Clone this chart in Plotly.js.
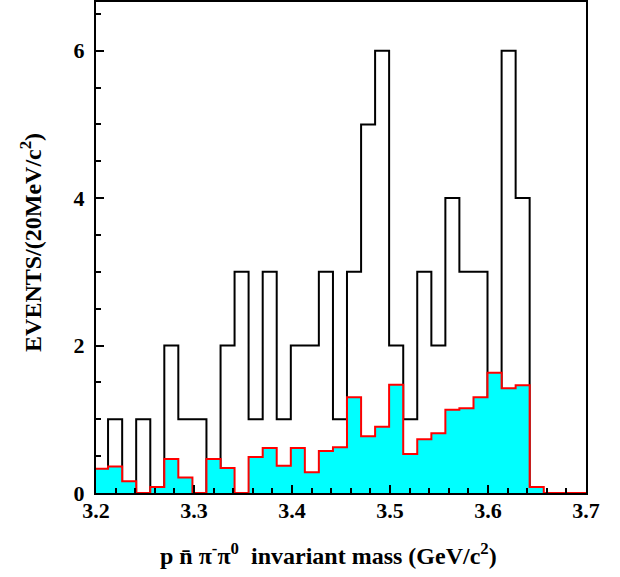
<!DOCTYPE html>
<html>
<head>
<meta charset="utf-8">
<script src="https://cdn.plot.ly/plotly-3.0.1.min.js"></script>
<style>html,body{margin:0;padding:0;background:#fff;}#chart{width:620px;height:577px;}</style>
</head>
<body>
<div id="chart"></div>
<script>
// Bin edges (GeV/c^2)
const binEdges = [3.1980, 3.2123, 3.2267, 3.2410, 3.2554, 3.2697, 3.2840, 3.2984, 3.3127, 3.3271,
                  3.3414, 3.3557, 3.3701, 3.3844, 3.3988, 3.4131, 3.4274, 3.4418, 3.4561, 3.4705,
                  3.4848, 3.4991, 3.5135, 3.5278, 3.5422, 3.5565, 3.5708, 3.5852, 3.5995, 3.6139,
                  3.6282, 3.6425, 3.6569, 3.6712, 3.6856, 3.7000];
// Data events per bin (black histogram)
const dataCounts = [0, 1, 0, 1, 0, 2, 1, 1, 0, 2, 3, 1, 3, 1, 2, 2, 3, 1, 3, 5,
                    6, 2, 1, 3, 2, 4, 3, 3, 1, 6, 4, 0, 0, 0, 0];
// Background estimate per bin (red/cyan histogram)
const bkgCounts = [0.33, 0.36, 0.16, 0, 0.08, 0.46, 0.21, 0, 0.46, 0.34, 0, 0.49, 0.61, 0.37, 0.61, 0.28, 0.57, 0.62, 1.30, 0.77,
                   0.90, 1.47, 0.53, 0.73, 0.81, 1.13, 1.15, 1.30, 1.63, 1.42, 1.46, 0.08, 0, 0, 0];
const xTickVals = [3.2, 3.3, 3.4, 3.5, 3.6, 3.7];
const xTickText = ['3.2', '3.3', '3.4', '3.5', '3.6', '3.7'];
const yTickVals = [0, 2, 4, 6];
const yTickText = ['0', '2', '4', '6'];
const xTitle = 'p n\u0304 \u03c0<sup>-</sup>\u03c0<sup>0</sup>  invariant mass (GeV/c<sup>2</sup>)';
const yTitle = 'EVENTS/(20MeV/c<sup>2</sup>)';

function stepY(v) { return v.concat([v[v.length - 1]]); }

const font = {family: '"Liberation Serif", "Times New Roman", serif', color: '#000', weight: 'bold'};

const traces = [
  {
    x: binEdges, y: stepY(dataCounts), type: 'scatter', mode: 'lines',
    line: {shape: 'hv', color: '#000', width: 2}, hoverinfo: 'skip', showlegend: false
  },
  {
    x: binEdges, y: stepY(bkgCounts), type: 'scatter', mode: 'lines',
    line: {shape: 'hv', color: '#ff0000', width: 2}, fill: 'tozeroy', fillcolor: '#00ffff',
    hoverinfo: 'skip', showlegend: false
  }
];

const layout = {
  width: 620, height: 577,
  margin: {l: 96, r: 34, t: 2, b: 84},
  paper_bgcolor: '#fff', plot_bgcolor: '#fff',
  showlegend: false,
  xaxis: {
    range: [3.2, 3.7], tickvals: xTickVals, ticktext: xTickText,
    ticks: 'inside', ticklen: 8, tickwidth: 2, tickcolor: '#000',
    minor: {dtick: 0.02, tick0: 3.2, ticks: 'inside', ticklen: 5, tickwidth: 2, tickcolor: '#000'},
    showline: true, linecolor: '#000', linewidth: 2, mirror: true,
    showgrid: false, zeroline: false,
    ticklabelstandoff: -3,
    tickfont: Object.assign({size: 22}, font)
  },
  yaxis: {
    range: [0, 6.66], tickvals: yTickVals, ticktext: yTickText,
    ticks: 'inside', ticklen: 8, tickwidth: 2, tickcolor: '#000',
    minor: {dtick: 0.5, tick0: 0, ticks: 'inside', ticklen: 5, tickwidth: 2, tickcolor: '#000'},
    showline: true, linecolor: '#000', linewidth: 2, mirror: true,
    showgrid: false, zeroline: false,
    ticklabelstandoff: 5,
    tickfont: Object.assign({size: 22}, font)
  },
  annotations: [
    {text: xTitle, xref: 'paper', yref: 'paper', x: 0.4735, y: -0.124, xanchor: 'center', yanchor: 'middle',
     showarrow: false, font: Object.assign({size: 24}, font)},
    {text: yTitle, xref: 'paper', yref: 'paper', x: -0.133, y: 0.511, xanchor: 'center', yanchor: 'middle',
     textangle: -90, showarrow: false, font: Object.assign({size: 24}, font)}
  ]
};

Plotly.newPlot('chart', traces, layout, {staticPlot: true, displayModeBar: false});
</script>
</body>
</html>
